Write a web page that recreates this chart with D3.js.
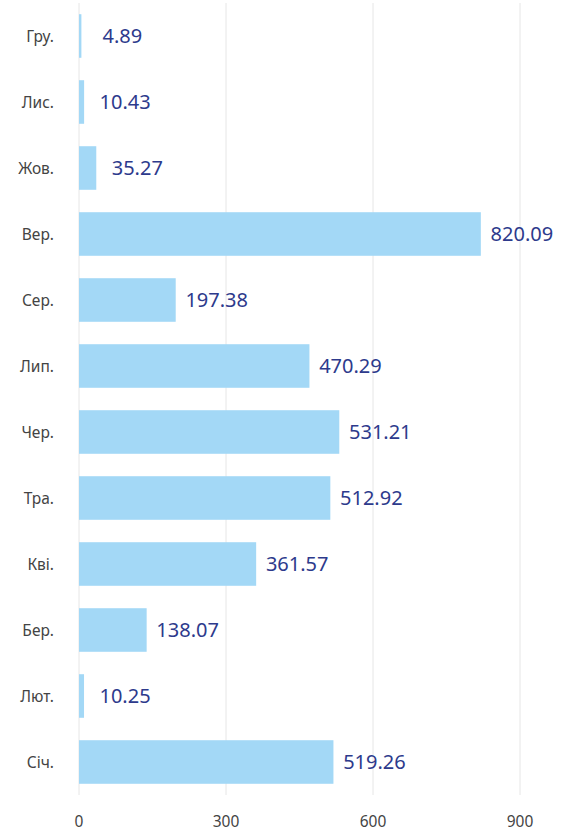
<!DOCTYPE html>
<html>
<head>
<meta charset="utf-8">
<script src="https://cdn.jsdelivr.net/npm/d3@7"></script>
<style>
  body { margin: 0; background: #fff; }
  svg text { font-family: "Noto Sans", "DejaVu Sans", sans-serif; }
</style>
</head>
<body>
<div id="chart"></div>
<script>
// DATA
const months = ["Гру.", "Лис.", "Жов.", "Вер.", "Сер.", "Лип.", "Чер.", "Тра.", "Кві.", "Бер.", "Лют.", "Січ."];
const values = [4.89, 10.43, 35.27, 820.09, 197.38, 470.29, 531.21, 512.92, 361.57, 138.07, 10.25, 519.26];
const xTicks = [0, 300, 600, 900];

const data = months.map((m, i) => ({month: m, value: values[i]}));

// SETUP
const width = 566;
const height = 834;
const margin = {top: 3, left: 79, right: 46, bottom: 39};

const svg = d3.select("#chart")
    .append("svg")
    .attr("width", width)
    .attr("height", height);

const x = d3.scaleLinear()
    .domain([0, 900])
    .range([margin.left, width - margin.right]);

const y = d3.scaleBand()
    .domain(months)
    .range([margin.top, height - margin.bottom])
    .paddingInner(0.34)
    .paddingOuter(0.17);

// GRID
svg.append("g")
    .selectAll("line")
    .data(xTicks)
    .join("line")
    .attr("x1", d => x(d))
    .attr("x2", d => x(d))
    .attr("y1", margin.top)
    .attr("y2", height - margin.bottom)
    .attr("stroke", "#e6e6e6")
    .attr("stroke-width", 1);

// X AXIS LABELS
svg.append("g")
    .selectAll("text")
    .data(xTicks)
    .join("text")
    .attr("x", d => x(d))
    .attr("y", 823)
    .attr("text-anchor", "middle")
    .attr("dominant-baseline", "middle")
    .attr("font-size", 15.5)
    .attr("fill", "#444")
    .text(d => d);

// BARS
svg.append("g")
    .selectAll("rect")
    .data(data)
    .join("rect")
    .attr("x", x(0))
    .attr("y", d => y(d.month))
    .attr("width", d => x(d.value) - x(0))
    .attr("height", y.bandwidth())
    .attr("fill", "#a3d8f6");

// CATEGORY LABELS
svg.append("g")
    .selectAll("text")
    .data(data)
    .join("text")
    .attr("x", 54)
    .attr("y", d => y(d.month) + y.bandwidth() / 2 + 2)
    .attr("text-anchor", "end")
    .attr("dominant-baseline", "middle")
    .attr("font-size", 15.5)
    .attr("fill", "#444")
    .text(d => d.month);

// VALUE LABELS
svg.append("g")
    .selectAll("text")
    .data(data)
    .join("text")
    .attr("x", d => x(d.value) + 41)
    .attr("y", d => y(d.month) + y.bandwidth() / 2 + 2)
    .attr("text-anchor", "middle")
    .attr("dominant-baseline", "middle")
    .attr("font-size", 20)
    .attr("fill", "#2d3a8c")
    .text(d => d.value.toFixed(2));
</script>
</body>
</html>
